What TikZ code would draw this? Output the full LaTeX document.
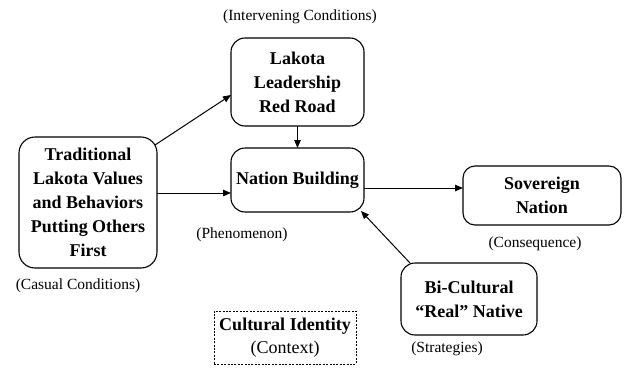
\documentclass[tikz,border=0pt]{standalone}
\usepackage{fontspec}
\setmainfont{Liberation Serif}
\usetikzlibrary{arrows.meta,calc}

\begin{document}
\begin{tikzpicture}[x=1pt,y=-1pt,
  box/.style={draw, line width=1.1pt, rounded corners=14pt, inner sep=0pt, outer sep=0pt,
    align=center, font=\fontsize{18}{24}\selectfont\bfseries},
  ctxbox/.style={draw, line width=0.8pt, dash pattern=on 2pt off 1.4pt, inner sep=0pt,
    align=center, font=\fontsize{18}{23}\selectfont},
  note/.style={inner sep=0pt, font=\fontsize{15.5}{18}\selectfont},
  link/.style={line width=1pt, -{Triangle[length=8pt,width=6.5pt]}}]
\useasboundingbox (0,0) rectangle (624,367);

% category boxes
\node[box, minimum width=138, minimum height=131, rounded corners=16pt] (trad) at (88,202.5)
  {Traditional\\Lakota Values\\and Behaviors\\Putting Others\\First};
\node[box, minimum width=133, minimum height=88] (lead) at (297.5,82)
  {Lakota\\Leadership\\Red Road};
\node[box, minimum width=133, minimum height=64] (nat) at (297.5,180)
  {Nation Building};
\node[box, minimum width=158, minimum height=59, rounded corners=12pt] (sov) at (542,195.5)
  {Sovereign\\Nation};
\node[box, minimum width=136, minimum height=72] (bi) at (469,299)
  {Bi-Cultural\\“Real” Native};
\node[ctxbox, minimum width=142, minimum height=53] (ctx) at (285,337.5)
  {\textbf{Cultural Identity}\\(Context)};

% paradigm roles
\node[note] (intv) at (300,17) {(Intervening Conditions)};
\node[note] (phen) at (242,235) {(Phenomenon)};
\node[note] (cons) at (535,244) {(Consequence)};
\node[note] (strat) at (447,349) {(Strategies)};
\node[note] (caus) at (78,286) {(Casual Conditions)};

% connectors
\coordinate (tradTop) at ($(trad.north east)+(-2,8)$);
\coordinate (leadIn) at ($(lead.west)+(0,13)$);
\draw[link] (tradTop) -- (leadIn);
\coordinate (natIn) at ($(nat.west)+(0,13)$);
\draw[link] (trad.east |- natIn) -- (natIn);
\draw[link] (lead.south) -- (nat.north);
\coordinate (sovIn) at ($(sov.west)+(0,-7.5)$);
\draw[link] (nat.east |- sovIn) -- (sovIn);
\coordinate (biOut) at ($(bi.north west)+(9,0)$);
\coordinate (natCorner) at ($(nat.south east)+(-3,-1)$);
\draw[link] (biOut) -- (natCorner);
\end{tikzpicture}
\end{document}
